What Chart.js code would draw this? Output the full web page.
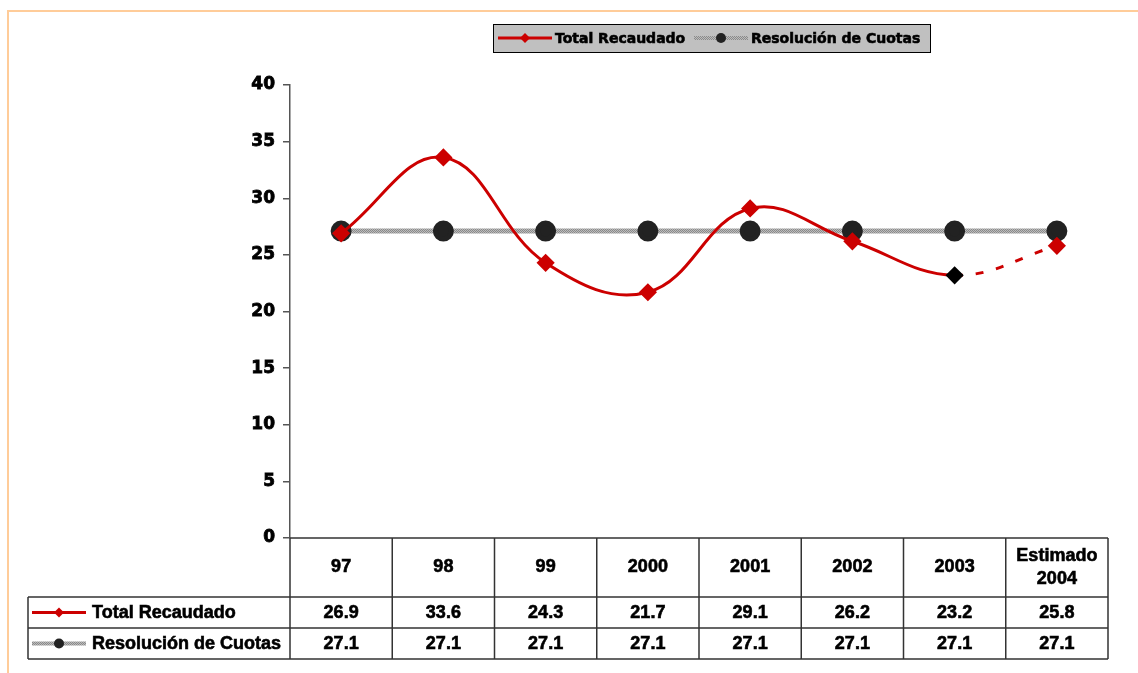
<!DOCTYPE html>
<html lang="es">
<head>
<meta charset="utf-8">
<title>Total Recaudado vs Resolución de Cuotas</title>
<script src="https://cdn.jsdelivr.net/npm/chart.js"></script>
<style>
  html, body { margin: 0; padding: 0; background: #fff; }
  #wrap { width: 1138px; height: 673px; position: relative; }
</style>
</head>
<body>
<div id="wrap"><canvas id="chart"></canvas></div>
<script>
// data
const years = ['97', '98', '99', '2000', '2001', '2002', '2003', 'Estimado\n2004'];
const totalRecaudado = [26.9, 33.6, 24.3, 21.7, 29.1, 26.2, 23.2, 25.8];
const resolucionCuotas = [27.1, 27.1, 27.1, 27.1, 27.1, 27.1, 27.1, 27.1];
const yTicks = [0, 5, 10, 15, 20, 25, 30, 35, 40];

const RED = '#cc0000';

// hatched grey like the excel line
function grayPattern(ctx) {
    const c = document.createElement('canvas');
    c.width = 2; c.height = 2;
    const g = c.getContext('2d');
    g.fillStyle = '#bcbcbc'; g.fillRect(0, 0, 2, 2);
    g.fillStyle = '#8a8a8a'; g.fillRect(0, 0, 1, 1); g.fillRect(1, 1, 1, 1);
    return ctx.createPattern(c, 'repeat');
}

const canvas = document.getElementById('chart');
const ctx0 = canvas.getContext('2d');
const grayPat = grayPattern(ctx0);

function drawDiamond(ctx, x, y, r, color) {
    ctx.save();
    ctx.fillStyle = color;
    ctx.beginPath();
    ctx.moveTo(x, y - r); ctx.lineTo(x + r, y); ctx.lineTo(x, y + r); ctx.lineTo(x - r, y);
    ctx.closePath(); ctx.fill();
    ctx.restore();
}
function drawDot(ctx, x, y, r) {
    ctx.save();
    ctx.fillStyle = '#222';
    ctx.beginPath(); ctx.arc(x, y, r, 0, Math.PI * 2); ctx.fill();
    ctx.restore();
}
function keyRed(ctx, x1, x2, y) {
    ctx.save();
    ctx.strokeStyle = RED; ctx.lineWidth = 3;
    ctx.beginPath(); ctx.moveTo(x1, y); ctx.lineTo(x2, y); ctx.stroke();
    ctx.restore();
    drawDiamond(ctx, (x1 + x2) / 2, y, 5, RED);
}
function keyGray(ctx, x1, x2, y) {
    ctx.save();
    ctx.strokeStyle = grayPat; ctx.lineWidth = 4;
    ctx.beginPath(); ctx.moveTo(x1, y); ctx.lineTo(x2, y); ctx.stroke();
    ctx.restore();
    drawDot(ctx, (x1 + x2) / 2, y, 5);
}
// heavier text, the original is rendered very bold
function boldText(ctx, s, x, y) {
    ctx.fillText(s, x, y);
    ctx.strokeText(s, x, y);
}

// frame, legend box and the data table below the plot
const extras = {
    id: 'extras',
    beforeDraw(chart) {
        const ctx = chart.ctx;
        ctx.save();
        ctx.strokeStyle = '#ffcc99'; ctx.lineWidth = 2;
        ctx.beginPath();
        ctx.moveTo(8, 673); ctx.lineTo(8, 11); ctx.lineTo(1138, 11);
        ctx.stroke();
        ctx.restore();
    },
    afterDraw(chart) {
        const ctx = chart.ctx;
        const x = chart.scales.x;
        const area = chart.chartArea;
        const left = area.left, right = area.right;
        const step = (right - left) / years.length;
        const top = area.bottom, r1 = 597, r2 = 628, r3 = 659, tabLeft = 28;

        ctx.save();
        ctx.strokeStyle = '#333'; ctx.lineWidth = 1.5;
        ctx.beginPath();
        ctx.moveTo(left, top); ctx.lineTo(right, top);
        [r1, r2, r3].forEach(y => { ctx.moveTo(tabLeft, y); ctx.lineTo(right, y); });
        ctx.moveTo(tabLeft, r1); ctx.lineTo(tabLeft, r3);
        for (let i = 0; i <= years.length; i++) {
            const xx = left + i * step;
            ctx.moveTo(xx, top); ctx.lineTo(xx, r3);
        }
        ctx.stroke();

        ctx.fillStyle = '#000';
        ctx.strokeStyle = '#000'; ctx.lineWidth = 0.6;
        ctx.font = 'bold 18px "Liberation Sans", Arial, sans-serif';
        ctx.textAlign = 'center'; ctx.textBaseline = 'middle';
        years.forEach((lab, i) => {
            const cx = x.getPixelForValue(i);
            const lines = lab.split('\n');
            const cy = (top + r1) / 2;
            lines.forEach((l, k) => boldText(ctx, l, cx, cy + (k - (lines.length - 1) / 2) * 23));
            boldText(ctx, totalRecaudado[i].toFixed(1), cx, (r1 + r2) / 2 + 1);
            boldText(ctx, resolucionCuotas[i].toFixed(1), cx, (r2 + r3) / 2 + 1);
        });
        ctx.textAlign = 'left';
        boldText(ctx, 'Total Recaudado', 92, (r1 + r2) / 2 + 1);
        boldText(ctx, 'Resolución de Cuotas', 92, (r2 + r3) / 2 + 1);
        ctx.restore();
        keyRed(ctx, 32, 86, (r1 + r2) / 2);
        keyGray(ctx, 32, 86, (r2 + r3) / 2);

        // legend
        ctx.save();
        ctx.fillStyle = '#c0c0c0';
        ctx.fillRect(493, 24, 437, 28);
        ctx.strokeStyle = '#000'; ctx.lineWidth = 1;
        ctx.strokeRect(493.5, 24.5, 437, 28);
        ctx.fillStyle = '#000'; ctx.lineWidth = 0.6;
        ctx.font = 'bold 14px "DejaVu Sans", Verdana, sans-serif';
        ctx.textBaseline = 'middle'; ctx.textAlign = 'left';
        boldText(ctx, 'Total Recaudado', 555, 39);
        boldText(ctx, 'Resolución de Cuotas', 751, 39);
        ctx.restore();
        keyRed(ctx, 498, 552, 38);
        keyGray(ctx, 694, 748, 38);
    }
};

new Chart(canvas, {
    type: 'line',
    data: {
        labels: years,
        datasets: [{
            label: 'Resolución de Cuotas',
            data: resolucionCuotas,
            borderColor: grayPat,
            borderWidth: 5,
            pointStyle: 'circle',
            pointRadius: 8,
            pointBackgroundColor: '#222',
            pointBorderColor: '#222',
            tension: 0,
            order: 2
        }, {
            label: 'Total Recaudado',
            data: totalRecaudado,
            borderColor: RED,
            borderWidth: 3,
            pointStyle: 'rectRot',
            pointRadius: 7,
            pointBackgroundColor: totalRecaudado.map((v, i) => i === 6 ? '#000' : RED),
            pointBorderColor: totalRecaudado.map((v, i) => i === 6 ? '#000' : RED),
            tension: 0.4,
            segment: {
                borderDash: c => c.p0DataIndex === 6 ? [8, 13] : undefined
            },
            order: 1
        }]
    },
    options: {
        responsive: true,
        maintainAspectRatio: false,
        animation: false,
        layout: { padding: { left: 0, top: 85, right: 30, bottom: 135 } },
        plugins: { legend: { display: false }, tooltip: { enabled: false } },
        scales: {
            x: {
                display: false,
                offset: true
            },
            y: {
                min: 0, max: 40,
                afterFit(scale) { scale.width = 290; },
                afterBuildTicks(scale) { scale.ticks = yTicks.map(v => ({ value: v })); },
                grid: { drawOnChartArea: false, tickLength: 7, color: '#555', lineWidth: 1.5 },
                border: { color: '#555', width: 1.5 },
                ticks: {
                    color: '#000',
                    padding: 8,
                    textStrokeColor: '#000',
                    textStrokeWidth: 0.8,
                    font: { family: '"DejaVu Sans", Verdana, sans-serif', size: 17, weight: 'bold' }
                }
            }
        }
    },
    plugins: [extras]
});
</script>
</body>
</html>
